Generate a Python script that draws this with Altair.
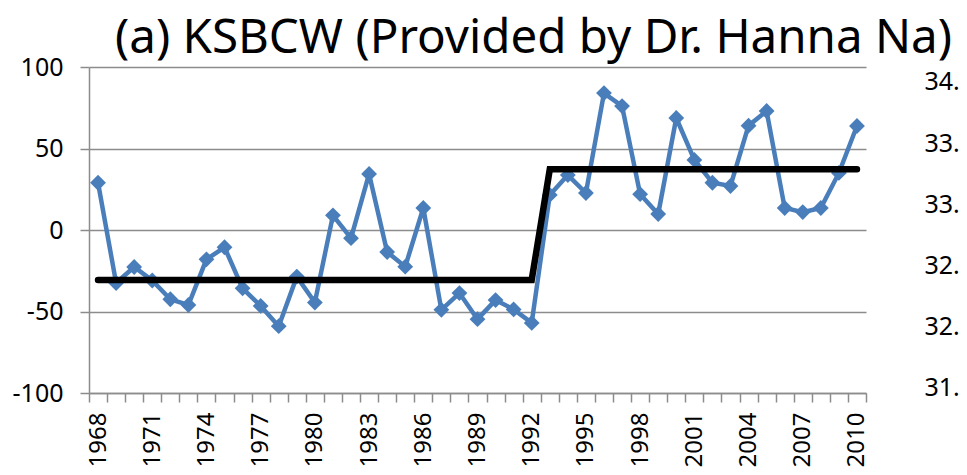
import altair as alt
import pandas as pd

years = list(range(1968, 2011))
ksbcw = [29, -32.5, -22.7, -31, -42.5, -46, -18, -10.6, -35.8, -46.6,
         -59, -28.6, -44.5, 9, -5, 34.4, -13.5, -22.5, 13.5, -49,
         -38.7, -54.7, -43, -48.7, -57, 21.5, 33.7, 22.7, 84, 76,
         22, 9.8, 68.7, 43, 29, 27, 64, 73, 13.5, 11,
         13.5, 35, 63.8]
step = [-30.6] * 25 + [37.2] * 18
left_ticks = [-100, -50, 0, 50, 100]
right_ticks = [31.5, 32.0, 32.5, 33.0, 33.5, 34.0]
title_text = ["(a) KSBCW (Provided by Dr. Hanna Na)"]

df = pd.DataFrame({"year": years, "value": ksbcw, "step": step})
df_r = pd.DataFrame({"year": [years[-1]] * len(right_ticks), "v": right_ticks})
df_t = pd.DataFrame({"t": title_text})

FONT = "Noto Sans"
GRID = "#8c8c8c"

x_enc = alt.X(
    "year:O",
    title=None,
    scale=alt.Scale(paddingInner=0, paddingOuter=0),
    axis=alt.Axis(
        tickBand="extent",
        labelExpr="(datum.value - 1968) % 3 == 0 ? datum.label : ''",
        labelAngle=-90,
        labelFontSize=24,
        labelFont=FONT,
        labelColor="black",
        labelPadding=10,
        tickSize=9,
        tickColor=GRID,
        tickWidth=1.5,
        domainColor=GRID,
        domainWidth=1.5,
        grid=False,
    ),
)

y_axis = alt.Axis(
    values=left_ticks,
    labelExpr="'' + datum.value",
    grid=True,
    gridColor=GRID,
    gridWidth=1.5,
    tickSize=9,
    tickColor=GRID,
    tickWidth=1.5,
    domainColor=GRID,
    domainWidth=1.5,
    labelFontSize=25,
    labelFont=FONT,
    labelColor="black",
    labelPadding=17,
)

base = alt.Chart(df)
blue = base.mark_line(
    color="#4A7EBB", strokeWidth=4.5,
    point=alt.OverlayMarkDef(shape="diamond", size=250, color="#4A7EBB", filled=True, opacity=1),
).encode(
    x=x_enc,
    y=alt.Y("value:Q", title=None, scale=alt.Scale(domain=[-100, 100], nice=False), axis=y_axis),
)
black = base.mark_line(color="black", strokeWidth=6.5, strokeCap="round").encode(
    x=x_enc,
    y=alt.Y("step:Q", scale=alt.Scale(domain=[-100, 100], nice=False), axis=None),
)
right = alt.Chart(df_r).mark_point(opacity=0).encode(
    x=x_enc,
    y=alt.Y(
        "v:Q",
        title=None,
        scale=alt.Scale(domain=[31.459, 34.1225], nice=False, zero=False),
        axis=alt.Axis(
            orient="right",
            values=right_ticks,
            format=".1f",
            grid=False,
            domain=False,
            ticks=False,
            tickSize=0,
            offset=0,
            labelFontSize=25,
            labelFont=FONT,
            labelColor="black",
            labelPadding=58,
        ),
    ),
)
title = alt.Chart(df_t).mark_text(
    font=FONT, fontSize=47.5, align="left", baseline="alphabetic", color="black"
).encode(text="t:N", x=alt.value(26), y=alt.value(-14))

chart = alt.layer(blue, black, right, title).resolve_scale(y="independent").properties(
    width=777,
    height=326,
    autosize=alt.AutoSizeParams(type="none"),
    padding={"left": 81, "top": 59, "right": 93, "bottom": 74},
).configure_view(stroke=None)

chart.save("out.html", embed_options={"renderer": "svg", "actions": False})
